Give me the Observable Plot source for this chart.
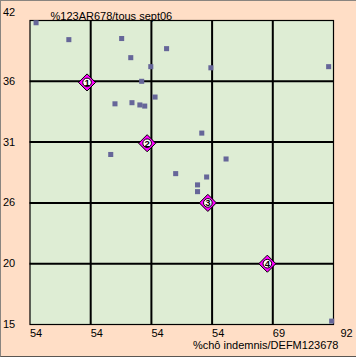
<!DOCTYPE html>
<html>
<head>
<meta charset="utf-8">
<script src="https://cdn.jsdelivr.net/npm/d3@7"></script>
<script src="https://cdn.jsdelivr.net/npm/@observablehq/plot@0.6"></script>
<style>
  html, body { margin: 0; padding: 0; background: #FFDEC6; }
  #wrap { position: relative; width: 356px; height: 357px; overflow: hidden; }
  #border { position: absolute; left: 0; top: 0; width: 356px; height: 357px; box-sizing: border-box;
            border-top: 1px solid #8a8580; border-left: 1px solid #8a8580; border-bottom: 1px solid #5a5652;
            pointer-events: none; }
</style>
</head>
<body>
<div id="wrap"><div id="chart"></div><div id="border"></div></div>
<script>
const title = "%123AR678/tous sept06";
const xTitle = "%chô indemnis/DEFM123678";
const xTickValues = [0, 1, 2, 3, 4, 5];
const xTickLabels = ["54", "54", "54", "54", "69", "92"];
const yTickValues = [15, 20.4, 25.8, 31.2, 36.6, 42];
const yTickLabels = ["15", "20", "26", "31", "36", "42"];

const pointX = [0.10, 0.64, 1.51, 1.66, 2.25, 1.99, 1.84, 2.06, 2.98, 4.92, 1.40, 1.68, 1.81, 1.89, 1.33, 2.40, 2.83, 3.23, 2.91, 2.76, 2.76, 4.97];
const pointY = [41.8, 40.3, 40.4, 38.7, 39.5, 37.9, 36.6, 35.2, 37.8, 37.9, 34.6, 34.7, 34.5, 34.4, 30.1, 28.4, 32.0, 29.7, 28.1, 27.4, 26.8, 15.3];

const markerLabels = ["1", "2", "3", "4"];
const markerX = [0.94, 1.93, 2.93, 3.91];
const markerY = [36.5, 31.1, 25.8, 20.4];

const points = pointX.map((x, i) => ({x, y: pointY[i]}));
const markers = markerLabels.map((label, i) => ({label, x: markerX[i], y: markerY[i]}));

const font = "'Liberation Sans', Arial, sans-serif";

const chart = Plot.plot({
  width: 356,
  height: 357,
  marginLeft: 29.5,
  marginRight: 23,
  marginTop: 20,
  marginBottom: 33,
  style: { background: "transparent", fontFamily: font, fontSize: "11px", color: "#000" },
  x: { domain: [0, 5] },
  y: { domain: [15, 42] },
  marks: [
    Plot.frame({ fill: "#DEEDD4", stroke: null }),
    Plot.ruleX(xTickValues.slice(1, -1), { stroke: "#000", strokeWidth: 2 }),
    Plot.ruleY(yTickValues.slice(1, -1), { stroke: "#000", strokeWidth: 2 }),
    Plot.frame({ stroke: "#000", strokeWidth: 1.2 }),
    Plot.axisY({ ticks: yTickValues.slice(0, -1), tickFormat: (d, i) => yTickLabels[i], tickSize: 0, tickPadding: 0, textAnchor: "start", dx: -27, label: null, fill: "#000", fontSize: 11 }),
    Plot.axisY({ ticks: yTickValues.slice(-1), tickFormat: () => yTickLabels[yTickLabels.length - 1], tickSize: 0, tickPadding: 0, textAnchor: "start", dx: -27, dy: -8, label: null, fill: "#000", fontSize: 11 }),
    Plot.axisX({ ticks: xTickValues.slice(0, -1), tickFormat: (d, i) => xTickLabels[i], tickSize: 0, tickPadding: 5, textAnchor: "start", label: null, fill: "#000", fontSize: 11 }),
    Plot.axisX({ ticks: xTickValues.slice(-1), tickFormat: () => xTickLabels[xTickLabels.length - 1], tickSize: 0, tickPadding: 5, textAnchor: "start", dx: 7, label: null, fill: "#000", fontSize: 11 }),
    Plot.text([xTitle], { frameAnchor: "bottom-right", text: d => d, textAnchor: "end", dx: 5, dy: 24, fill: "#000", fontSize: 11 }),
    Plot.text([title], { frameAnchor: "top-left", text: d => d, textAnchor: "start", dx: 20.5, dy: -8, fill: "#000", fontSize: 11 }),
    Plot.dot(points, { x: "x", y: "y", symbol: "square", r: 2.85, fill: "#666699", stroke: null }),
    Plot.dot(markers, { x: "x", y: "y", symbol: "diamond2", r: 7.7, fill: "#FF00FF", stroke: "#000", strokeWidth: 1 }),
    Plot.dot(markers, { x: "x", y: "y", r: 4.3, fill: "#fff", stroke: "#000", strokeWidth: 1 }),
    Plot.text(markers, { x: "x", y: "y", text: "label", fill: "#000", fontSize: 9.5, fontWeight: "bold", dy: 0.5 })
  ]
});
document.getElementById("chart").appendChild(chart);
</script>
</body>
</html>
